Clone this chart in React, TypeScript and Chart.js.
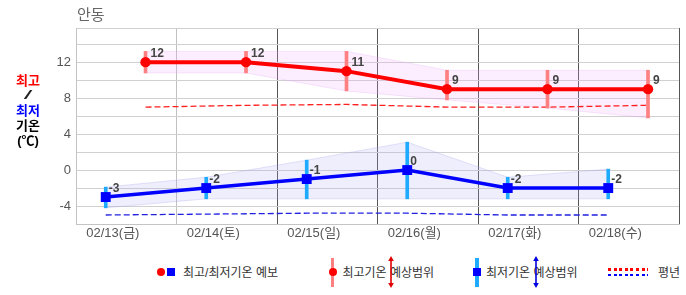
import React, { useEffect, useRef } from "react";
import { Chart, registerables } from "chart.js";

Chart.register(...registerables);

// ---- data ----
const dayLabels = ["02/13(금)", "02/14(토)", "02/15(일)", "02/16(월)", "02/17(화)", "02/18(수)"];
const highTemps = [12, 12, 11, 9, 9, 9];
const lowTemps = [-3, -2, -1, 0, -2, -2];
const highRangeMax = [13.2, 13.2, 13.2, 11.1, 11.1, 11.1];
const highRangeMin = [10.8, 10.8, 8.8, 7.8, 6.9, 5.8];
const lowRangeMax = [-1.9, -0.8, 1.1, 3.1, -0.8, 0.1];
const lowRangeMin = [-4.2, -3.2, -3.2, -3.2, -3.2, -3.2];
const highNormal = [7.0, 7.2, 7.3, 7.0, 7.0, 7.2];
const lowNormal = [-5.0, -4.9, -4.8, -4.8, -5.0, -5.0];
// hours of the day at which each value is plotted (x axis in days)
const highHour = 16.6;
const lowHour = 7.1;
const labelHour = 8.8;
const yTickValues = [-6, -4, -2, 0, 2, 4, 6, 8, 10, 12, 14];
const yMin = -6;
const yMax = 15.8;

const FONT = "'Liberation Sans', 'Noto Sans CJK KR', sans-serif";

const at = (vals: number[], hour: number) => vals.map((v, i) => ({ x: i + hour / 24, y: v }));
const rangeAt = (lo: number[], hi: number[], hour: number) =>
  lo.map((v, i) => ({ x: i + hour / 24, y: [v, hi[i]] }));

const labelPlugin = {
  id: "valueLabels",
  afterDatasetsDraw(chart: any) {
    const ctx = chart.ctx;
    ctx.save();
    ctx.font = "bold 12px " + FONT;
    ctx.fillStyle = "#444";
    ctx.textBaseline = "alphabetic";
    ctx.textAlign = "left";
    chart.data.datasets.forEach((ds: any, di: number) => {
      if (!ds._labels) return;
      const meta = chart.getDatasetMeta(di);
      meta.data.forEach((el: any, i: number) => {
        const v = ds._labels[i];
        ctx.fillText(String(v), el.x + ds._dx, el.y - 5.5);
      });
    });
    ctx.restore();
  },
};

function ChartCanvas() {
  const ref = useRef<HTMLCanvasElement | null>(null);
  useEffect(() => {
    if (!ref.current) return;
    const xTicks: number[] = [];
    for (let i = 0; i <= dayLabels.length; i++) {
      xTicks.push(i);
      if (i < dayLabels.length) xTicks.push(i + labelHour / 24);
    }
    const chart = new Chart(ref.current, {
      type: "line",
      data: {
        datasets: [
          {
            type: "line",
            data: at(highTemps, highHour),
            borderColor: "#ff0000",
            borderWidth: 4,
            pointRadius: 5.2,
            pointBackgroundColor: "#ff0000",
            pointBorderWidth: 0,
            tension: 0,
            fill: false,
            order: 1,
            _labels: highTemps,
            _dx: 5,
          } as any,
          {
            type: "line",
            data: at(lowTemps, lowHour),
            borderColor: "#0000ff",
            borderWidth: 3.5,
            pointStyle: "rect",
            pointRadius: 7,
            pointBackgroundColor: "#0000ff",
            pointBorderWidth: 0,
            tension: 0,
            fill: false,
            order: 1,
            _labels: lowTemps,
            _dx: 3,
          } as any,
          {
            type: "bar",
            data: rangeAt(highRangeMin, highRangeMax, highHour),
            backgroundColor: "#ff8080",
            borderWidth: 0,
            barThickness: 3,
            grouped: false,
            order: 2,
          } as any,
          {
            type: "bar",
            data: rangeAt(lowRangeMin, lowRangeMax, lowHour),
            backgroundColor: "#1eaaff",
            borderWidth: 0,
            barThickness: 3,
            grouped: false,
            order: 2,
          } as any,
          {
            type: "line",
            data: at(highNormal, highHour),
            borderColor: "#ff2020",
            borderWidth: 1.3,
            borderDash: [6, 3],
            pointRadius: 0,
            tension: 0,
            fill: false,
            order: 3,
          },
          {
            type: "line",
            data: at(lowNormal, lowHour),
            borderColor: "#2020e0",
            borderWidth: 1.3,
            borderDash: [6, 3],
            pointRadius: 0,
            tension: 0,
            fill: false,
            order: 3,
          },
          {
            type: "line",
            data: at(highRangeMax, highHour),
            borderColor: "rgba(225,160,245,0.25)",
            borderWidth: 1,
            pointRadius: 0,
            tension: 0,
            fill: "+1",
            backgroundColor: "rgba(238,170,250,0.2)",
            order: 4,
          },
          {
            type: "line",
            data: at(highRangeMin, highHour),
            borderColor: "rgba(225,160,245,0.25)",
            borderWidth: 1,
            pointRadius: 0,
            tension: 0,
            fill: false,
            order: 4,
          },
          {
            type: "line",
            data: at(lowRangeMax, lowHour),
            borderColor: "rgba(160,160,235,0.3)",
            borderWidth: 1,
            pointRadius: 0,
            tension: 0,
            fill: "+1",
            backgroundColor: "rgba(170,170,240,0.2)",
            order: 4,
          },
          {
            type: "line",
            data: at(lowRangeMin, lowHour),
            borderColor: "rgba(160,160,235,0.3)",
            borderWidth: 1,
            pointRadius: 0,
            tension: 0,
            fill: false,
            order: 4,
          },
        ],
      },
      options: {
        responsive: false,
        animation: false,
        events: [],
        devicePixelRatio: 1,
        layout: { padding: { top: 28, right: 4, left: 0, bottom: 0 } },
        plugins: {
          legend: { display: false },
          tooltip: { enabled: false },
          title: { display: false },
        },
        scales: {
          x: {
            type: "linear",
            min: 0,
            max: dayLabels.length,
            offset: false,
            afterBuildTicks: (scale: any) => {
              scale.ticks = xTicks.map((v) => ({ value: v }));
            },
            afterFit: (scale: any) => {
              scale.height = 26;
            },
            ticks: {
              autoSkip: false,
              maxRotation: 0,
              padding: 2,
              color: "#555",
              font: { size: 13, family: FONT },
              callback: (value: any) => {
                const v = Number(value);
                if (Math.abs(v - Math.round(v)) < 1e-6) return "";
                return dayLabels[Math.floor(v)];
              },
            },
            grid: {
              offset: false,
              drawTicks: false,
              lineWidth: 1,
              color: (ctx: any) => {
                const v = ctx.tick ? ctx.tick.value : 0;
                if (Math.abs(v - Math.round(v)) > 1e-6) return "rgba(0,0,0,0)";
                if (v === 0) return "#c4c4c4";
                if (v === 1) return "#c0c0c0";
                return "#555555";
              },
            },
            border: { color: "#c4c4c4" },
          },
          y: {
            type: "linear",
            min: yMin,
            max: yMax,
            afterBuildTicks: (scale: any) => {
              scale.ticks = [...yTickValues, yMax].map((v) => ({ value: v }));
            },
            afterFit: (scale: any) => {
              scale.width = 76;
            },
            ticks: {
              autoSkip: false,
              padding: 5,
              color: "#555",
              font: { size: 13, family: FONT },
              callback: (value: any) => {
                const v = Number(value);
                if (v % 4 === 0 && v > yMin && v < yMax) return String(v);
                return "";
              },
            },
            grid: { drawTicks: false, color: "#d0d0d0", lineWidth: 1 },
            border: { color: "#c4c4c4" },
          },
        },
      } as any,
      plugins: [labelPlugin],
    });
    return () => chart.destroy();
  }, []);
  return (
    <canvas
      ref={ref}
      width={686}
      height={250}
      style={{ position: "absolute", left: 0, top: 0, width: 686, height: 250 }}
    />
  );
}

const txt = (left: number, top: number, s: string, extra: any = {}) => (
  <div
    style={{
      position: "absolute",
      left,
      top,
      whiteSpace: "nowrap",
      fontSize: 12,
      lineHeight: "14px",
      color: "#333",
      ...extra,
    }}
  >
    {s}
  </div>
);

const Arrow = ({ cx, color }: { cx: number; color: string }) => (
  <svg
    width={8}
    height={32}
    style={{ position: "absolute", left: cx - 4, top: 256 }}
  >
    <line x1={4} y1={4} x2={4} y2={28} stroke={color} strokeWidth={1.6} />
    <polygon points="4,0 1.2,5 6.8,5" fill={color} />
    <polygon points="4,32 1.2,27 6.8,27" fill={color} />
  </svg>
);

export default function App() {
  useEffect(() => {
    document.body.style.margin = "0";
  }, []);
  return (
    <div
      style={{
        position: "absolute",
        left: 0,
        top: 0,
        width: 686,
        height: 295,
        background: "#fff",
        fontFamily: FONT,
        overflow: "hidden",
      }}
    >
      <ChartCanvas />
      {txt(77, 6, "안동", { fontSize: 15, lineHeight: "18px", color: "#666" })}
      <div
        style={{
          position: "absolute",
          left: 8,
          top: 73,
          width: 40,
          textAlign: "center",
          fontWeight: "bold",
          fontSize: 13,
          lineHeight: "15px",
          color: "#000",
        }}
      >
        <div style={{ color: "#ff0000" }}>최고</div>
        <div style={{ fontWeight: "normal", fontSize: 12, transform: "scaleX(2.6)", color: "#222" }}>/</div>
        <div style={{ color: "#0000ff" }}>최저</div>
        <div>기온</div>
        <div>(℃)</div>
      </div>

      {/* legend item 1 */}
      <div style={{ position: "absolute", left: 156.8, top: 267.8, width: 8.5, height: 8.5, borderRadius: "50%", background: "#ff0000" }} />
      <div style={{ position: "absolute", left: 166.5, top: 268, width: 8.4, height: 8.4, background: "#0000ff" }} />
      {txt(183, 265.5, "최고/최저기온 예보")}

      {/* legend item 2 */}
      <div style={{ position: "absolute", left: 330.8, top: 257.5, width: 3.4, height: 29, background: "#ff8080" }} />
      <div style={{ position: "absolute", left: 328.5, top: 268, width: 8.3, height: 8.3, borderRadius: "50%", background: "#ff0000" }} />
      {txt(342.5, 265.5, "최고기온 예상범위")}
      <Arrow cx={390.7} color="#e00000" />

      {/* legend item 3 */}
      <div style={{ position: "absolute", left: 475.3, top: 257.5, width: 3.4, height: 29, background: "#1eaaff" }} />
      <div style={{ position: "absolute", left: 472.8, top: 268, width: 8.4, height: 8.4, background: "#0000ff" }} />
      {txt(486, 265.5, "최저기온 예상범위")}
      <Arrow cx={535.6} color="#0000e0" />

      {/* legend item 4 */}
      <div
        style={{
          position: "absolute",
          left: 607.5,
          top: 268,
          width: 40,
          height: 2.6,
          background: "repeating-linear-gradient(to right, #ff0000 0 3px, transparent 3px 5.6px)",
        }}
      />
      <div
        style={{
          position: "absolute",
          left: 607.5,
          top: 273.5,
          width: 40,
          height: 2.6,
          background: "repeating-linear-gradient(to right, #0000ff 0 3px, transparent 3px 5.6px)",
        }}
      />
      {txt(658, 265.5, "평년")}
    </div>
  );
}
